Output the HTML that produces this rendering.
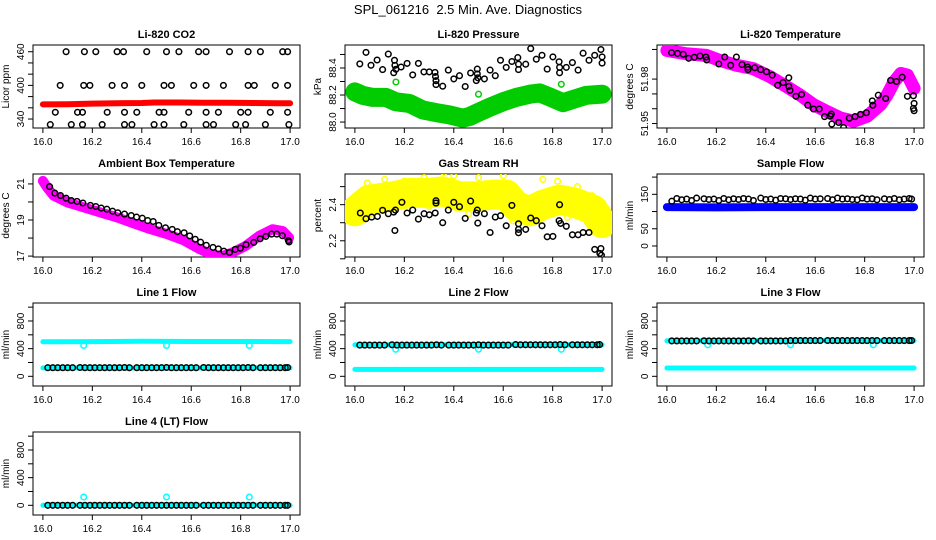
<!DOCTYPE html>
<html><head><meta charset="utf-8"><title>SPL_061216 Diagnostics</title>
<style>
html,body{margin:0;padding:0;background:#fff;}
svg{display:block;font-family:"Liberation Sans",Arial,sans-serif;}
</style></head>
<body>
<svg id="chart" width="936" height="540" viewBox="0 0 936 540" xmlns="http://www.w3.org/2000/svg">
<rect x="0" y="0" width="936" height="540" fill="#fff"/>
<text x="468" y="14" text-anchor="middle" font-size="13" style="white-space:pre">SPL_061216  2.5 Min. Ave. Diagnostics</text>
</svg>
<script>
const xTicks = [16.0, 16.2, 16.4, 16.6, 16.8, 17.0];
const xTickLabels = ["16.0", "16.2", "16.4", "16.6", "16.8", "17.0"];
const T = [16.02,16.04,16.06,16.08,16.10,16.12,16.15,16.17,16.19,16.21,16.23,16.25,16.27,16.29,16.31,16.33,16.35,16.38,16.40,16.42,16.44,16.46,16.48,16.50,16.52,16.54,16.56,16.58,16.60,16.62,16.65,16.67,16.69,16.71,16.73,16.75,16.77,16.79,16.81,16.83,16.85,16.88,16.90,16.92,16.94,16.96,16.98,16.99];

const co2BlackX = [16.094,16.168,16.214,16.30,16.326,16.42,16.50,16.55,16.63,16.66,16.755,16.83,16.88,16.97,16.99,
 16.07,16.165,16.19,16.28,16.33,16.40,16.49,16.52,16.61,16.66,16.73,16.83,16.855,16.94,16.99,
 16.05,16.14,16.16,16.26,16.33,16.38,16.47,16.49,16.59,16.66,16.71,16.80,16.83,16.92,16.99,
 16.03,16.115,16.16,16.24,16.33,16.36,16.45,16.49,16.57,16.66,16.69,16.78,16.82,16.90,16.995];
const co2BlackY = [460,460,460,460,460,460,460,460,460,460,460,460,460,460,460,
 400,400,400,400,400,400,400,400,400,400,400,400,400,400,400,
 352,352,352,352,352,352,352,352,352,352,352,352,352,352,352,
 330,330,330,330,330,330,330,330,330,330,330,330,330,330,330];
const co2RedX = [16.0,16.1,16.2,16.3,16.4,16.45,16.55,16.65,16.75,16.85,16.95,17.0];
const co2RedY = [366,366.5,367.5,368,368.5,369.5,369.5,369,369,368.5,368,368];

const presBlackX = [16.02,16.045,16.065,16.09,16.112,16.135,16.16,16.157,16.162,16.166,16.187,16.211,16.234,16.257,16.279,16.301,16.324,16.326,16.328,16.328,16.355,16.378,16.4,16.423,16.446,16.468,16.491,16.495,16.495,16.497,16.524,16.547,16.568,16.589,16.612,16.635,16.659,16.662,16.662,16.691,16.711,16.734,16.757,16.778,16.801,16.826,16.828,16.828,16.855,16.88,16.903,16.923,16.947,16.97,16.995,17.0,17.0];
const presBlackY = [88.43,88.515,88.42,88.459,88.388,88.503,88.457,88.365,88.419,88.39,88.407,88.434,88.349,88.434,88.371,88.371,88.367,88.337,88.306,88.277,88.265,88.384,88.319,88.343,88.263,88.363,88.307,88.392,88.356,88.327,88.319,88.384,88.343,88.457,88.404,88.448,88.477,88.428,88.388,88.428,88.543,88.465,88.494,88.392,88.482,88.446,88.364,88.404,88.404,88.44,88.384,88.509,88.457,88.494,88.537,88.482,88.436];
const presGreenOutX = [16.166,16.5,16.835];
const presGreenOutY = [88.296,88.206,88.279];
const presBandX = [16.0,16.031,16.072,16.126,16.166,16.22,16.274,16.328,16.382,16.436,16.464,16.491,16.545,16.599,16.653,16.707,16.747,16.788,16.842,16.882,16.936,17.0];
const presBandY = [88.223,88.198,88.182,88.182,88.15,88.138,88.09,88.07,88.053,88.029,88.041,88.065,88.109,88.15,88.182,88.206,88.216,88.186,88.143,88.167,88.198,88.206];

const tempBandX = [16.0,16.077,16.159,16.213,16.281,16.349,16.417,16.484,16.538,16.593,16.647,16.701,16.756,16.81,16.864,16.891,16.919,16.946,16.973,17.0];
const tempBandY = [51.9993,51.9971,51.996,51.9927,51.9893,51.9871,51.9816,51.9749,51.9693,51.9627,51.9582,51.9538,51.9516,51.9549,51.9627,51.9693,51.9782,51.9838,51.9827,51.9738];
const tempBlackX = [16.019,16.043,16.066,16.088,16.111,16.134,16.158,16.161,16.21,16.234,16.258,16.281,16.304,16.327,16.328,16.355,16.379,16.403,16.426,16.448,16.47,16.493,16.493,16.498,16.522,16.545,16.57,16.593,16.616,16.638,16.661,16.665,16.667,16.695,16.715,16.738,16.761,16.783,16.807,16.831,16.833,16.855,16.885,16.905,16.929,16.952,16.973,16.997,17.0,17.0,16.997];
const tempBlackY = [51.9978,51.9973,51.9967,51.994,51.9947,51.9956,51.9949,51.9929,51.9902,51.9949,51.9893,51.9949,51.9898,51.988,51.9864,51.9876,51.9864,51.9849,51.9827,51.9758,51.9776,51.9809,51.9751,51.9724,51.9684,51.9696,51.9624,51.9598,51.9598,51.9547,51.9551,51.9564,51.9496,51.9507,51.9473,51.9536,51.9547,51.9562,51.9573,51.9653,51.9624,51.9691,51.9669,51.9791,51.9784,51.9813,51.9684,51.9687,51.9636,51.9587,51.9602];

const ambBandX = [16.0,16.017,16.044,16.098,16.165,16.232,16.299,16.366,16.433,16.5,16.567,16.634,16.688,16.728,16.768,16.821,16.875,16.929,16.97,16.996];
const ambBandY = [21.17,20.8,20.34,19.98,19.7,19.42,19.15,18.82,18.5,18.23,17.89,17.39,17.06,17.01,17.2,17.57,18.12,18.49,18.39,18.02];
const ambBlackX = [16.027,16.048,16.071,16.094,16.115,16.138,16.162,16.192,16.214,16.236,16.259,16.282,16.303,16.33,16.357,16.379,16.402,16.424,16.446,16.469,16.496,16.523,16.544,16.571,16.594,16.616,16.638,16.661,16.688,16.71,16.732,16.755,16.778,16.799,16.822,16.853,16.879,16.902,16.925,16.946,16.969,16.993,16.996];
const ambBlackY = [20.85,20.49,20.36,20.21,20.08,20.03,19.94,19.81,19.75,19.66,19.6,19.49,19.4,19.33,19.25,19.16,19.1,18.97,18.92,18.7,18.57,18.48,18.35,18.29,18.12,17.93,17.77,17.6,17.48,17.4,17.27,17.2,17.37,17.44,17.63,17.76,17.96,18.09,18.22,18.22,18.13,17.86,17.78];

const rhBandX = [16.0,16.058,16.153,16.22,16.301,16.355,16.423,16.491,16.558,16.612,16.653,16.707,16.761,16.828,16.895,16.963,17.0];
const rhBandY = [2.363,2.428,2.446,2.465,2.465,2.474,2.446,2.446,2.456,2.456,2.391,2.363,2.4,2.428,2.409,2.372,2.298];
const rhYellowX = [16.05,16.12,16.2,16.28,16.36,16.4,16.44,16.5,16.58,16.6,16.76,16.82,16.9,16.96,16.1,16.3,16.46,16.7,16.03,16.64,16.86,16.98];
const rhYellowY = [2.52,2.54,2.53,2.55,2.58,2.56,2.6,2.55,2.52,2.56,2.54,2.53,2.5,2.45,2.37,2.39,2.35,2.33,2.33,2.31,2.33,2.24];
const rhBlackX = [16.022,16.045,16.068,16.091,16.112,16.135,16.157,16.162,16.164,16.19,16.211,16.234,16.257,16.28,16.301,16.325,16.328,16.328,16.355,16.378,16.4,16.423,16.446,16.468,16.491,16.495,16.497,16.524,16.547,16.568,16.589,16.612,16.635,16.662,16.662,16.662,16.691,16.711,16.734,16.757,16.778,16.801,16.826,16.828,16.832,16.855,16.88,16.903,16.923,16.947,16.97,16.991,16.995,16.997];
const rhBlackY = [2.354,2.322,2.331,2.335,2.369,2.35,2.359,2.257,2.37,2.413,2.354,2.37,2.32,2.35,2.344,2.354,2.409,2.422,2.3,2.37,2.413,2.389,2.324,2.42,2.354,2.37,2.298,2.35,2.246,2.331,2.339,2.283,2.396,2.294,2.244,2.263,2.263,2.326,2.311,2.283,2.222,2.224,2.311,2.4,2.296,2.28,2.233,2.233,2.246,2.246,2.152,2.13,2.157,2.12];

const sfBlackY = [130,138,134,136,132,139,137,135,136,132,138,134,137,135,138,136,132,139,135,136,133,138,137,135,137,136,133,139,136,137,138,134,139,136,137,135,134,139,136,137,134,137,135,138,134,136,138,136];
const sfBlueX = [16.0,16.2,16.4,16.6,16.8,17.0];
const sfBlueY = [113,112,113,113,113,113];

const l1CyanUpX = [16.0,16.2,16.4,16.6,16.8,17.0];
const l1CyanUpY = [500,502,506,504,503,502];
const l1CyanLowX = [16.0,16.5,17.0];
const l1CyanLowY = [122,122,122];
const l1DipX = [16.165,16.5,16.835];
const l1DipY = [445,445,445];
const l1BlackY = [125,125,125,125,125,125,127,125,125,125,125,125,125,125,125,127,125,125,125,125,125,125,125,127,125,125,125,125,125,125,127,125,125,125,125,125,125,125,125,127,125,125,125,125,125,125,125,127];

const l2CyanUpX = [16.0,16.2,16.4,16.6,16.8,17.0];
const l2CyanUpY = [455,455,456,458,456,455];
const l2CyanLowX = [16.0,16.5,17.0];
const l2CyanLowY = [100,100,100];
const l2DipX = [16.165,16.5,16.835];
const l2DipY = [390,390,390];
const l2BlackY = [452,452,452,452,452,452,455,452,452,452,452,452,452,452,452,455,452,452,452,452,452,452,452,455,452,452,452,452,452,452,458,455,455,455,455,455,455,455,455,458,455,455,455,455,455,455,455,458];

const l3CyanUpX = [16.0,16.2,16.4,16.6,16.8,17.0];
const l3CyanUpY = [512,514,516,518,517,516];
const l3CyanLowX = [16.0,16.5,17.0];
const l3CyanLowY = [120,120,120];
const l3DipX = [16.165,16.5,16.835];
const l3DipY = [455,455,455];
const l3BlackY = [512,512,512,512,512,512,514,512,512,512,512,512,512,512,512,514,512,512,512,512,512,512,512,516,516,516,516,516,516,516,518,517,517,517,517,517,517,517,517,518,517,517,517,517,517,517,517,518];

const l4CyanX = [16.0,16.5,17.0];
const l4CyanY = [0,0,0];
const l4SpikeX = [16.165,16.5,16.835];
const l4SpikeY = [120,120,120];
const l4BlackY = [0,0,0,0,0,0,0,0,0,0,0,0,0,0,0,0,0,0,0,0,0,0,0,0,0,0,0,0,0,0,0,0,0,0,0,0,0,0,0,0,0,0,0,0,0,0,0,0];

const flowTicks = [0,200,400,600,800,1000];
const flowLabels = ["0","","400","","800",""];

const NS = "http://www.w3.org/2000/svg";
const svg = document.getElementById('chart');
function mk(tag, attrs, parent) {
  const e = document.createElementNS(NS, tag);
  for (const k in attrs) e.setAttribute(k, attrs[k]);
  (parent || svg).appendChild(e);
  return e;
}
const COLS = [33, 345, 657];
const ROWS = [45, 174, 303, 432];
const BW = 267, BH = 83;

function panel(name, col, row, title, ylabel, ylim, yt, ytl) {
  const L = COLS[col], Tp = ROWS[row];
  const g = mk('g', {});
  
  
  const xs = v => L + 9.9 + (v - 16) * (BW - 19.8);
  const ys = v => Tp + BH - (v - ylim[0]) / (ylim[1] - ylim[0]) * BH;
  const box = mk('rect', {x: L, y: Tp, width: BW, height: BH, fill: 'none', stroke: '#000', 'stroke-width': 1}, g);
  
  
  const t = mk('text', {x: L + BW / 2, y: Tp - 7, 'text-anchor': 'middle', 'font-size': 11, 'font-weight': 'bold'}, g);
  t.textContent = title;
  
  
  const xa = mk('g', {}, g);
  
  
  mk('line', {x1: xs(16), x2: xs(17), y1: Tp + BH, y2: Tp + BH, stroke: '#000'}, xa);
  xTicks.forEach((v, i) => {
    mk('line', {x1: xs(v), x2: xs(v), y1: Tp + BH, y2: Tp + BH + 5, stroke: '#000'}, xa);
    const tl = mk('text', {x: xs(v), y: Tp + BH + 17, 'text-anchor': 'middle', 'font-size': 10}, xa);
    tl.textContent = xTickLabels[i];
  });
  const ya = mk('g', {}, g);
  
  
  mk('line', {x1: L, x2: L, y1: ys(yt[0]), y2: ys(yt[yt.length - 1]), stroke: '#000'}, ya);
  yt.forEach((v, i) => {
    mk('line', {x1: L - 5, x2: L, y1: ys(v), y2: ys(v), stroke: '#000'}, ya);
    if (ytl[i]) {
      const tl = mk('text', {x: 0, y: 0, 'text-anchor': 'middle', 'font-size': 10, transform: 'translate(' + (L - 9) + ',' + ys(v) + ') rotate(-90)'}, ya);
      tl.textContent = ytl[i];
    }
  });
  const yl = mk('text', {x: 0, y: 0, 'text-anchor': 'middle', 'font-size': 10, transform: 'translate(' + (L - 24) + ',' + (Tp + BH / 2) + ') rotate(-90)'}, g);
  yl.textContent = ylabel;
  
  
  const clip = 'clip-' + name;
  const cp = mk('clipPath', {id: clip}, g);
  mk('rect', {x: L, y: Tp, width: BW, height: BH}, cp);
  const plot = mk('g', {'clip-path': 'url(#' + clip + ')'}, g);
  return {xs: xs, ys: ys, plot: plot};
}
function band(p, X, Y, color, w, name) {
  const d = X.map((x, i) => (i ? 'L' : 'M') + p.xs(x).toFixed(1) + ',' + p.ys(Y[i]).toFixed(1)).join(' ');
  const e = mk('path', {d: d, fill: 'none', stroke: color, 'stroke-width': w, 'stroke-linejoin': 'round', 'stroke-linecap': 'round'}, p.plot);
  
  
}
function pts(p, X, Y, color, name, r) {
  const g = mk('g', {}, p.plot);
  
  
  X.forEach((x, i) => {
    mk('circle', {cx: p.xs(x).toFixed(1), cy: p.ys(Y[i]).toFixed(1), r: r || 2.8, fill: 'none', stroke: color, 'stroke-width': 1.5}, g);
  });
}

let p;
p = panel('co2', 0, 0, 'Li-820 CO2', 'Licor ppm', [324, 472], [340,360,380,400,420,440,460], ["340","","","400","","","460"]);
band(p, co2RedX, co2RedY, '#ff0000', 6, 'co2-red-series');
pts(p, co2BlackX, co2BlackY, '#000', 'co2-black-series');

p = panel('pressure', 1, 0, 'Li-820 Pressure', 'kPa', [87.956, 88.57], [88.0,88.1,88.2,88.3,88.4,88.5], ["88.0","","88.2","","88.4",""]);
band(p, presBandX, presBandY, '#00cc00', 19, 'pressure-green-series');
pts(p, presGreenOutX, presGreenOutY, '#00cc00', 'pressure-green-outliers');
pts(p, presBlackX, presBlackY, '#000', 'pressure-black-series');

p = panel('li820-temp', 2, 0, 'Li-820 Temperature', 'degrees C', [51.947, 52.003], [51.95,51.96,51.97,51.98,52.00], ["51.95","","","51.98",""]);
band(p, tempBandX, tempBandY, '#ff00ff', 13, 'li820-temp-magenta-series');
pts(p, tempBlackX, tempBlackY, '#000', 'li820-temp-black-series');

p = panel('ambient-temp', 0, 1, 'Ambient Box Temperature', 'degrees C', [16.95, 21.55], [17,18,19,20,21], ["17","","19","","21"]);
band(p, ambBandX, ambBandY, '#ff00ff', 10, 'ambient-magenta-series');
pts(p, ambBlackX, ambBlackY, '#000', 'ambient-black-series');

p = panel('gas-rh', 1, 1, 'Gas Stream RH', 'percent', [2.11, 2.57], [2.1,2.2,2.3,2.4,2.5], ["","2.2","","2.4",""]);
band(p, rhBandX, rhBandY, '#ffff00', 30, 'rh-yellow-series');
pts(p, rhYellowX, rhYellowY, '#ffff00', 'rh-yellow-outliers');
pts(p, rhBlackX, rhBlackY, '#000', 'rh-black-series');

p = panel('sample-flow', 2, 1, 'Sample Flow', 'ml/min', [-32, 209], [0,50,100,150,200], ["0","50","","150",""]);
band(p, sfBlueX, sfBlueY, '#0000ff', 8, 'sample-flow-blue-series');
pts(p, T, sfBlackY, '#000', 'sample-flow-black-series');

const FL = [-140, 1060];
p = panel('line1-flow', 0, 2, 'Line 1 Flow', 'ml/min', FL, flowTicks, flowLabels);
band(p, l1CyanUpX, l1CyanUpY, '#00ffff', 5, 'line1-cyan-upper');
band(p, l1CyanLowX, l1CyanLowY, '#00ffff', 5, 'line1-cyan-lower');
pts(p, l1DipX, l1DipY, '#00ffff', 'line1-cyan-dips');
pts(p, T, l1BlackY, '#000', 'line1-black-series');

p = panel('line2-flow', 1, 2, 'Line 2 Flow', 'ml/min', FL, flowTicks, flowLabels);
band(p, l2CyanUpX, l2CyanUpY, '#00ffff', 5, 'line2-cyan-upper');
band(p, l2CyanLowX, l2CyanLowY, '#00ffff', 5, 'line2-cyan-lower');
pts(p, l2DipX, l2DipY, '#00ffff', 'line2-cyan-dips');
pts(p, T, l2BlackY, '#000', 'line2-black-series');

p = panel('line3-flow', 2, 2, 'Line 3 Flow', 'ml/min', FL, flowTicks, flowLabels);
band(p, l3CyanUpX, l3CyanUpY, '#00ffff', 5, 'line3-cyan-upper');
band(p, l3CyanLowX, l3CyanLowY, '#00ffff', 5, 'line3-cyan-lower');
pts(p, l3DipX, l3DipY, '#00ffff', 'line3-cyan-dips');
pts(p, T, l3BlackY, '#000', 'line3-black-series');

p = panel('line4-flow', 0, 3, 'Line 4 (LT) Flow', 'ml/min', FL, flowTicks, flowLabels);
band(p, l4CyanX, l4CyanY, '#00ffff', 5, 'line4-cyan-series');
pts(p, l4SpikeX, l4SpikeY, '#00ffff', 'line4-cyan-spikes');
pts(p, T, l4BlackY, '#000', 'line4-black-series');
</script>
</body></html>
